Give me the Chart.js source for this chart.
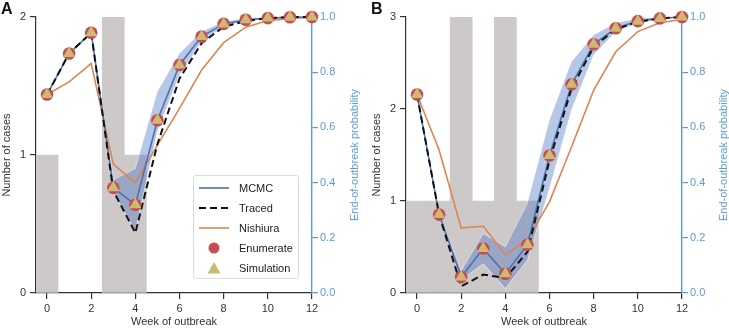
<!DOCTYPE html>
<html><head><meta charset="utf-8">
<script src="https://cdn.jsdelivr.net/npm/chart.js@4.4.1/dist/chart.umd.min.js"></script>
<style>
body{margin:0;width:729px;height:329px;overflow:hidden;background:#fff;font-family:"Liberation Sans",Arial,sans-serif;position:relative}
.wrap{position:absolute;top:0;height:329px}
.plbl{position:absolute;font-weight:bold;font-size:16px;color:#111;line-height:16px}
.rt{position:absolute;color:#5b9bd5;font-size:11px;white-space:nowrap;transform:translate(-50%,-50%) rotate(-90deg)}
.leg{position:absolute;border:1px solid #dcdcdc;border-radius:3px;background:rgba(255,255,255,0.85);box-sizing:border-box}
.row{position:absolute;left:0;height:20px;width:100%}
.row svg{position:absolute;left:4px;top:4px}
.row span{position:absolute;left:45px;top:3px;font-size:11px;color:#222;line-height:14px}
</style></head><body>
<div class="wrap" style="left:0;width:370px"><canvas id="cA" width="370" height="329"></canvas></div>
<div class="wrap" style="left:370px;width:359px"><canvas id="cB" width="359" height="329"></canvas></div>
<div class="plbl" style="left:1px;top:1px">A</div>
<div class="plbl" style="left:371px;top:1px">B</div>
<div class="rt" style="left:354px;top:155px">End-of-outbreak probability</div>
<div class="rt" style="left:723px;top:155px">End-of-outbreak probability</div>
<div class="leg" style="left:193px;top:175px;width:106px;height:104px">
 <div class="row" style="top:2px"><svg width="32" height="12"><line x1="1" y1="6" x2="31" y2="6" stroke="#4c72b0" stroke-width="1.6"/></svg><span>MCMC</span></div>
 <div class="row" style="top:22px"><svg width="32" height="12"><line x1="1" y1="6" x2="31" y2="6" stroke="#111" stroke-width="2" stroke-dasharray="7,4"/></svg><span>Traced</span></div>
 <div class="row" style="top:42px"><svg width="32" height="12"><line x1="1" y1="6" x2="31" y2="6" stroke="#dd8452" stroke-width="1.6"/></svg><span>Nishiura</span></div>
 <div class="row" style="top:62px"><svg width="32" height="12"><circle cx="16" cy="6" r="5.5" fill="#c44e52"/></svg><span>Enumerate</span></div>
 <div class="row" style="top:82px"><svg width="32" height="12"><polygon points="16,0 22.5,11.5 9.5,11.5" fill="#ccb974"/></svg><span>Simulation</span></div>
</div>
<script>
const weeks = [0,1,2,3,4,5,6,7,8,9,10,11,12];
const xTicks = [0,2,4,6,8,10,12];
const probTicks = [0,0.2,0.4,0.6,0.8,1.0];

// Panel A
const casesA = [1,0,0,2,1,0,0,0,0,0,0,0,0];
const mcmcA   = [0.719,0.868,0.943,0.381,0.320,0.626,0.826,0.929,0.975,0.990,0.996,0.999,1.000];
const mcmcLoA = [0.719,0.868,0.943,0.364,0.225,0.584,0.790,0.911,0.965,0.985,0.994,0.998,1.000];
const mcmcHiA = [0.719,0.868,0.943,0.409,0.450,0.729,0.868,0.947,0.983,0.994,0.998,1.000,1.000];
const tracedA = [0.719,0.868,0.943,0.370,0.218,0.540,0.777,0.905,0.965,0.985,0.996,1.000,1.000];
const nishA   = [0.719,0.765,0.832,0.467,0.399,0.536,0.669,0.808,0.907,0.963,0.987,0.995,0.998];
const enumA   = [0.719,0.868,0.943,0.381,0.320,0.626,0.826,0.929,0.975,0.990,0.996,0.999,1.000];
const simA    = [0.719,0.868,0.943,0.381,0.320,0.626,0.826,0.929,0.975,0.990,0.996,0.999,1.000];

// Panel B
const casesB = [1,1,3,1,3,1,0,0,0,0,0,0,0];
const mcmcB   = [0.719,0.284,0.058,0.161,0.070,0.175,0.498,0.756,0.901,0.959,0.985,0.995,1.000];
const mcmcLoB = [0.719,0.284,0.046,0.106,0.016,0.118,0.378,0.663,0.862,0.947,0.977,0.993,1.000];
const mcmcHiB = [0.719,0.284,0.080,0.215,0.167,0.324,0.626,0.838,0.935,0.977,0.995,0.999,1.000];
const tracedB = [0.719,0.284,0.024,0.067,0.054,0.149,0.481,0.741,0.892,0.956,0.982,0.995,1.000];
const nishB   = [0.719,0.518,0.236,0.242,0.139,0.193,0.330,0.530,0.735,0.874,0.947,0.979,0.991];
const enumB   = [0.719,0.284,0.058,0.161,0.070,0.175,0.498,0.756,0.901,0.959,0.985,0.995,1.000];
const simB    = [0.719,0.284,0.058,0.161,0.070,0.175,0.498,0.756,0.901,0.959,0.985,0.995,1.000];

Chart.defaults.font.family = '"Liberation Sans", Arial, sans-serif';
Chart.defaults.font.size = 11;

const pts = arr => weeks.map((w,i) => ({x:w, y:arr[i]}));
const DARK = '#333333', BLUE = '#5b9bd5';

function makeChart(id, cases, ymax, mcmc, lo, hi, traced, nish, en, sim, canvasW) {
  const rightW = canvasW - 312;
  const lineBase = {type:'line', yAxisID:'y1', pointRadius:0, pointHoverRadius:0, tension:0, clip:false, fill:false};
  new Chart(document.getElementById(id), {
    data: {
      datasets: [
        {type:'bar', label:'Cases', data: pts(cases).filter(p=>p.y>0), yAxisID:'y', backgroundColor:'#cdc9c9',
         barPercentage:1, categoryPercentage:1, order:10, borderWidth:0},
        {...lineBase, label:'MCMC upper', data: pts(hi), borderColor:'rgba(255,255,255,0.75)', borderWidth:0.8, order:9},
        {...lineBase, label:'MCMC lower', data: pts(lo), borderColor:'rgba(255,255,255,0.75)', borderWidth:0.8,
         fill:'-1', backgroundColor:'rgba(76,114,196,0.40)', order:8},
        {...lineBase, label:'Nishiura', data: pts(nish), borderColor:'#dd8452', borderWidth:1.6, order:6},
        {...lineBase, label:'MCMC', data: pts(mcmc), borderColor:'#4c72b0', borderWidth:1.6, order:5},
        {...lineBase, label:'Traced', data: pts(traced), borderColor:'#111111', borderWidth:2, borderDash:[7,4], order:4},
        {type:'scatter', label:'Enumerate', data: pts(en), yAxisID:'y1', pointStyle:'circle', pointRadius:6.3,
         backgroundColor:'#c44e52', borderWidth:0, clip:false, order:2},
        {type:'scatter', label:'Simulation', data: pts(sim), yAxisID:'y1', pointStyle:'triangle', pointRadius:7,
         backgroundColor:'#ccb974', borderWidth:0, clip:false, order:1}
      ]
    },
    options: {
      responsive:false, animation:false, events:[],
      layout:{padding:{top:17,left:0,right:0,bottom:0}},
      plugins:{legend:{display:false}, tooltip:{enabled:false}},
      scales:{
        x:{type:'linear', position:'bottom', min:-0.5, max:12, offset:false,
           afterBuildTicks: s => { s.ticks = xTicks.map(v=>({value:v})); },
           afterFit: s => { s.height = 36; },
           grid:{offset:false, drawOnChartArea:false, drawTicks:true, tickLength:6, color:DARK, lineWidth:1.2},
           border:{display:true, color:DARK, width:1.2},
           ticks:{color:DARK, padding:3, maxRotation:0},
           title:{display:true, text:'Week of outbreak', color:DARK, padding:{top:2,bottom:0}}},
        y:{position:'left', min:0, max:ymax,
           afterBuildTicks: s => { s.ticks = []; for (let v=0; v<=ymax; v++) s.ticks.push({value:v}); },
           afterFit: s => { s.width = 36; },
           grid:{drawOnChartArea:false, drawTicks:true, tickLength:6, color:DARK, lineWidth:1.2},
           border:{display:true, color:DARK, width:1.2},
           ticks:{color:DARK, padding:4},
           title:{display:true, text:'Number of cases', color:DARK, padding:{top:0,bottom:2}}},
        y1:{position:'right', min:0, max:1, z:1,
           afterBuildTicks: s => { s.ticks = probTicks.map(v=>({value:v})); },
           afterFit: s => { s.width = rightW; },
           grid:{drawOnChartArea:false, drawTicks:true, tickLength:6, color:BLUE, lineWidth:1.2},
           border:{display:true, color:BLUE, width:1.4},
           ticks:{color:BLUE, padding:2, callback: v => Number(v).toFixed(1)},
           title:{display:false}}
      }
    }
  });
}
makeChart('cA', casesA, 2, mcmcA, mcmcLoA, mcmcHiA, tracedA, nishA, enumA, simA, 370);
makeChart('cB', casesB, 3, mcmcB, mcmcLoB, mcmcHiB, tracedB, nishB, enumB, simB, 359);
</script>
</body></html>
